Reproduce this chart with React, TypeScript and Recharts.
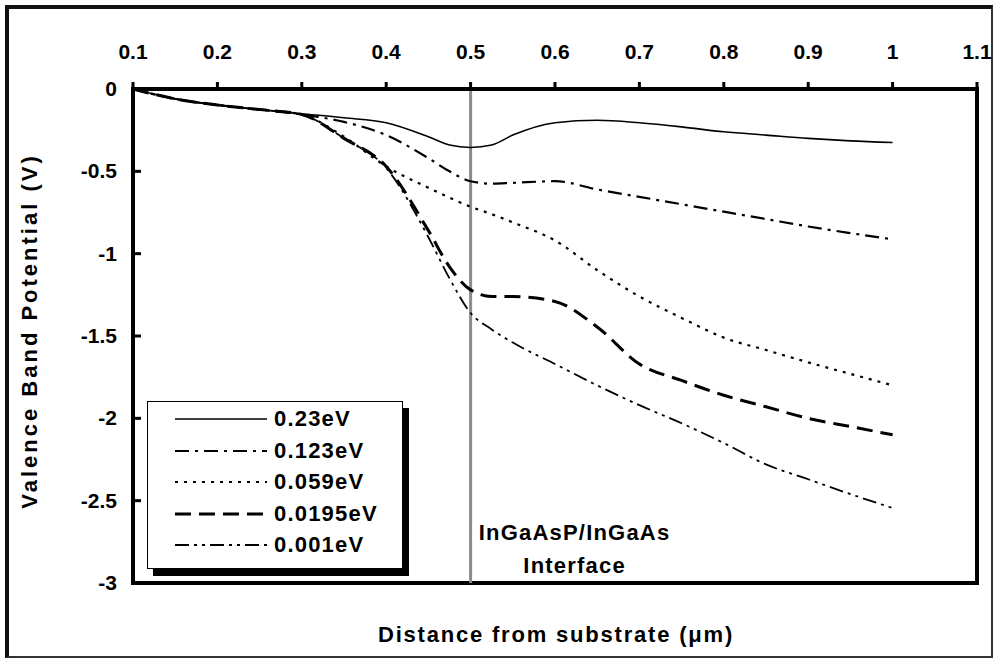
import React from 'react';
import {
  LineChart,
  Line,
  XAxis,
  YAxis,
  ReferenceLine,
  ReferenceArea
} from 'recharts';

// distance from substrate (um)
const X_VALUES = [0.1, 0.15, 0.2, 0.25, 0.3, 0.35, 0.4, 0.45, 0.475, 0.5, 0.525, 0.55, 0.6, 0.65, 0.7, 0.75, 0.8, 0.85, 0.9, 0.95, 1.0];

// valence band potential (V) for each trap energy
const V_0230 = [0, -0.06, -0.097, -0.125, -0.15, -0.175, -0.205, -0.29, -0.34, -0.355, -0.34, -0.28, -0.205, -0.19, -0.205, -0.23, -0.26, -0.28, -0.3, -0.315, -0.325];
const V_0123 = [0, -0.06, -0.097, -0.125, -0.155, -0.2, -0.28, -0.42, -0.5, -0.56, -0.575, -0.57, -0.56, -0.61, -0.655, -0.7, -0.745, -0.79, -0.835, -0.875, -0.913];
const V_0059 = [0, -0.06, -0.097, -0.125, -0.155, -0.29, -0.47, -0.6, -0.66, -0.715, -0.76, -0.81, -0.92, -1.1, -1.26, -1.39, -1.51, -1.585, -1.66, -1.73, -1.8];
const V_00195 = [0, -0.06, -0.097, -0.125, -0.155, -0.3, -0.47, -0.86, -1.08, -1.22, -1.26, -1.26, -1.29, -1.445, -1.67, -1.77, -1.86, -1.93, -2.0, -2.05, -2.1];
const V_0001 = [0, -0.06, -0.097, -0.125, -0.155, -0.3, -0.48, -0.9, -1.15, -1.36, -1.46, -1.54, -1.67, -1.8, -1.92, -2.03, -2.15, -2.28, -2.37, -2.46, -2.545];

const X_TICKS = [0.1, 0.2, 0.3, 0.4, 0.5, 0.6, 0.7, 0.8, 0.9, 1, 1.1];
const Y_TICKS = [0, -0.5, -1, -1.5, -2, -2.5, -3];

const SERIES = [
  { key: 'e0230', name: '0.23eV', values: V_0230, dash: undefined, width: 1.6 },
  { key: 'e0123', name: '0.123eV', values: V_0123, dash: '14 6 3 6', width: 2.2 },
  { key: 'e0059', name: '0.059eV', values: V_0059, dash: '3 6', width: 2.2 },
  { key: 'e00195', name: '0.0195eV', values: V_00195, dash: '16 8', width: 3 },
  { key: 'e0001', name: '0.001eV', values: V_0001, dash: '14 5 3 5 3 5', width: 1.8 }
];

const data = X_VALUES.map((x, i) => {
  const row: Record<string, number> = { x };
  SERIES.forEach((s) => {
    row[s.key] = s.values[i];
  });
  return row;
});

const FONT = '"Liberation Sans", Arial, sans-serif';

const XTick = (props: any) => {
  const { x, y, payload } = props;
  return (
    <text x={x} y={y} textAnchor="middle" fontFamily={FONT} fontWeight="bold" fontSize={21} fill="#000">
      {payload.value}
    </text>
  );
};

const YTick = (props: any) => {
  const { x, y, payload } = props;
  return (
    <g>
      <line x1={x + 16} x2={x + 24} y1={y} y2={y} stroke="#000" strokeWidth={3} />
      <text x={x} y={y + 7} textAnchor="end" fontFamily={FONT} fontWeight="bold" fontSize={21} fill="#000">
        {payload.value}
      </text>
    </g>
  );
};

const InterfaceLabel = (props: any) => {
  const vb = props.viewBox || {};
  const cx = vb.x + 104;
  return (
    <g fontFamily={FONT} fontWeight="bold" fontSize={22} fill="#000" textAnchor="middle">
      <text x={cx} y={540} letterSpacing={1.2}>InGaAsP/InGaAs</text>
      <text x={cx} y={573} letterSpacing={1.2}>Interface</text>
    </g>
  );
};

const LegendBox = () => (
  <div
    style={{
      position: 'absolute',
      left: 147,
      top: 401,
      width: 256,
      height: 168,
      boxSizing: 'border-box',
      border: '1px solid #000',
      background: '#fff',
      boxShadow: '6px 7px 0 0 #000',
      fontFamily: FONT,
      fontWeight: 'bold',
      fontSize: 22,
      letterSpacing: 1.2
    }}
  >
    {SERIES.map((s, i) => (
      <div
        key={s.key}
        style={{ position: 'absolute', left: 27, top: 3 + i * 31.5, height: 28, display: 'flex', alignItems: 'center' }}
      >
        <svg width={92} height={10} style={{ display: 'block' }}>
          <line x1={0} x2={92} y1={5} y2={5} stroke="#000" strokeWidth={s.width} strokeDasharray={s.dash} />
        </svg>
        <span style={{ marginLeft: 7, lineHeight: '28px' }}>{s.name}</span>
      </div>
    ))}
  </div>
);

export default function App() {
  return (
    <div style={{ position: 'absolute', left: 0, top: 0, width: 995, height: 661, background: '#fff' }}>
      <div
        style={{
          position: 'absolute',
          left: 5,
          top: 5,
          width: 988,
          height: 653,
          boxSizing: 'border-box',
          borderLeft: '4px solid #111',
          borderTop: '4px solid #111',
          borderRight: '2px solid #333',
          borderBottom: '2px solid #333'
        }}
      />
      <LineChart
        width={995}
        height={661}
        data={data}
        margin={{ top: 49, right: 18, bottom: 78, left: 73 }}
        style={{ position: 'absolute', left: 0, top: 0 }}
      >
        <XAxis
          type="number"
          dataKey="x"
          orientation="top"
          domain={[0.1, 1.1]}
          ticks={X_TICKS}
          height={40}
          axisLine={{ stroke: '#000', strokeWidth: 4 }}
          tickLine={{ stroke: '#000', strokeWidth: 3 }}
          tickSize={7}
          tickMargin={23}
          tick={<XTick />}
          interval={0}
          allowDataOverflow
        />
        <YAxis
          type="number"
          domain={[-3, 0]}
          ticks={Y_TICKS}
          width={60}
          axisLine={{ stroke: '#000', strokeWidth: 4 }}
          tickLine={false}
          tickSize={0}
          tickMargin={16}
          tick={<YTick />}
          interval={0}
          allowDataOverflow
        />
        <ReferenceLine
          x={0.5}
          stroke="#8c8c8c"
          strokeWidth={3}
          label={<InterfaceLabel />}
        />
        {SERIES.map((s) => (
          <Line
            key={s.key}
            type="monotone"
            dataKey={s.key}
            name={s.name}
            stroke="#000"
            strokeWidth={s.width}
            strokeDasharray={s.dash}
            dot={false}
            isAnimationActive={false}
          />
        ))}
        <ReferenceArea x1={0.1} x2={1.1} y1={-3} y2={0} fill="none" stroke="#000" strokeWidth={4} ifOverflow="visible" />
      </LineChart>
      <svg width={995} height={661} style={{ position: 'absolute', left: 0, top: 0, pointerEvents: 'none' }}>
        <text
          x={556}
          y={642}
          textAnchor="middle"
          fontFamily={FONT}
          fontWeight="bold"
          fontSize={22}
          letterSpacing={1.8}
        >
          Distance from substrate (μm)
        </text>
        <text
          transform="translate(37,331) rotate(-90)"
          textAnchor="middle"
          fontFamily={FONT}
          fontWeight="bold"
          fontSize={22}
          letterSpacing={3}
        >
          Valence Band Potential (V)
        </text>
      </svg>
      <LegendBox />
    </div>
  );
}
